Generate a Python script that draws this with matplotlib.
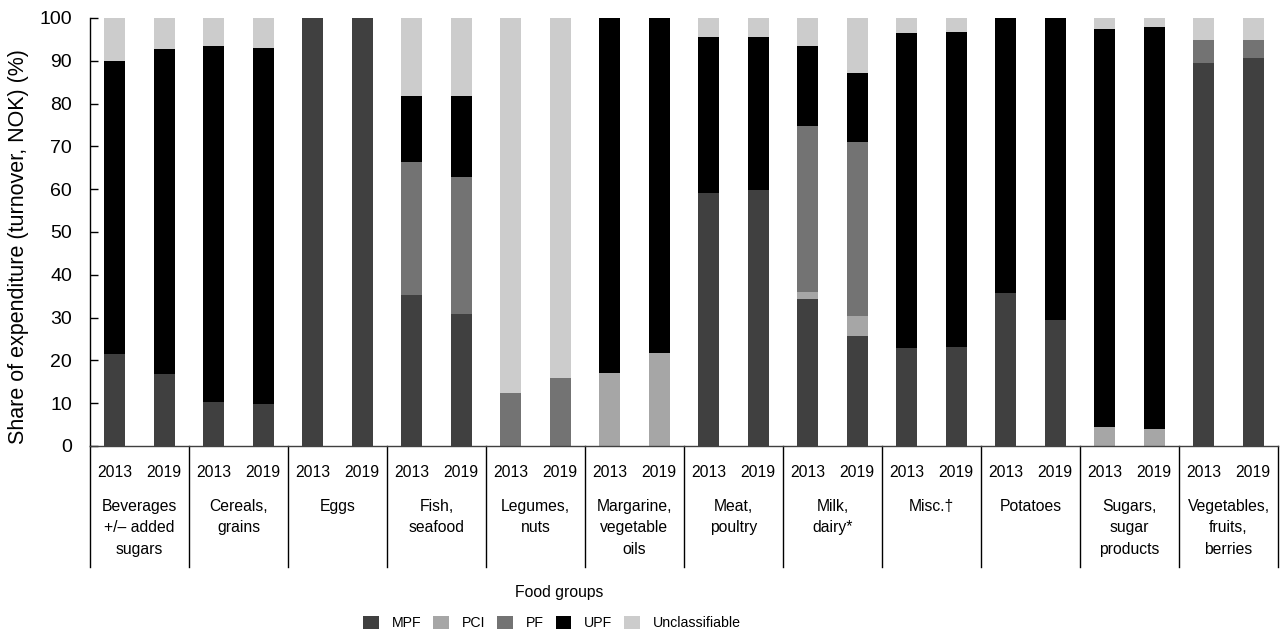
import numpy as np
import matplotlib.pyplot as plt
from matplotlib.patches import Patch
import matplotlib.transforms as mtransforms

plt.rcParams['font.family'] = ['Liberation Sans', 'DejaVu Sans']

# food groups and the two survey years
groups = ['Beverages\n+/\u2013 added\nsugars', 'Cereals,\ngrains', 'Eggs', 'Fish,\nseafood',
          'Legumes,\nnuts', 'Margarine,\nvegetable\noils', 'Meat,\npoultry', 'Milk,\ndairy*',
          'Misc.\u2020', 'Potatoes', 'Sugars,\nsugar\nproducts', 'Vegetables,\nfruits,\nberries']
years = ['2013', '2019']

# share (%) per processing class, order: g0-2013, g0-2019, g1-2013, ...
mpf = [21.4, 16.8, 10.2, 9.7, 100, 100, 35.2, 30.8, 0, 0, 0, 0,
       59.1, 59.8, 34.3, 25.6, 22.8, 23.1, 35.7, 29.4, 0, 0, 89.5, 90.6]
pci = [0, 0, 0, 0, 0, 0, 0, 0, 0, 0, 17.0, 21.7,
       0, 0, 1.6, 4.7, 0, 0, 0, 0, 4.4, 3.9, 0, 0]
pf = [0, 0, 0, 0, 0, 0, 31.1, 32.0, 12.3, 15.8, 0, 0,
      0, 0, 38.8, 40.7, 0, 0, 0, 0, 0, 0, 5.4, 4.3]
upf = [68.5, 76.0, 83.3, 83.3, 0, 0, 15.5, 19.0, 0, 0, 83.0, 78.3,
       36.5, 35.8, 18.8, 16.1, 73.7, 73.6, 64.3, 70.6, 93.0, 94.0, 0, 0]
uncl = [10.1, 7.2, 6.5, 7.0, 0, 0, 18.2, 18.2, 87.7, 84.2, 0, 0,
        4.4, 4.4, 6.5, 12.9, 3.5, 3.3, 0, 0, 2.6, 2.1, 5.1, 5.1]

series = [('MPF', mpf, '#404040'), ('PCI', pci, '#a6a6a6'), ('PF', pf, '#737373'),
          ('UPF', upf, '#000000'), ('Unclassifiable', uncl, '#cccccc')]

fig = plt.figure(figsize=(12.86, 6.37), dpi=100)
ax = fig.add_axes([90/1286, 191/637, 1188/1286, 428/637])

n = len(groups)
x = np.array([[g + 0.25, g + 0.75] for g in range(n)]).ravel()
bottom = np.zeros(len(x))
for name, vals, col in series:
    vals = np.array(vals, dtype=float)
    ax.bar(x, vals, width=0.212, bottom=bottom, color=col, linewidth=0)
    bottom += vals

ax.set_xlim(0, n)
ax.set_ylim(0, 100)
ax.set_yticks(np.arange(0, 101, 10))
ax.tick_params(axis='y', direction='in', length=6, width=1, pad=13, labelsize=14)
ax.set_xticks([])
for s in ['top', 'right']:
    ax.spines[s].set_visible(False)
ax.spines['left'].set_linewidth(1)
ax.spines['bottom'].set_linewidth(1)
ax.spines['bottom'].set_color('#404040')

trans = mtransforms.blended_transform_factory(ax.transData, ax.transAxes)
for g in range(n + 1):
    ax.plot([g, g], [0, -0.283], transform=trans, color='black', lw=1, clip_on=False)
for i, xi in enumerate(x):
    ax.text(xi, -0.061, years[i % 2], transform=trans, ha='center', va='center',
            fontsize=11.3)
for g, name in enumerate(groups):
    ax.text(g + 0.5, -0.123, name, transform=trans, ha='center', va='top',
            fontsize=11.3, linespacing=1.55)

fig.text(19/1286, 390/637, 'Share of expenditure (turnover, NOK) (%)', rotation=90,
         ha='center', va='center', fontsize=15.5)
fig.text(559/1286, 44/637, 'Food groups', ha='center', va='center', fontsize=11.3)

handles = [Patch(facecolor=c, edgecolor='none', label=nm) for nm, v, c in series]
fig.legend(handles=handles, loc='center', bbox_to_anchor=(552/1286, 14/637), ncol=5,
           frameon=False, fontsize=10.2, handlelength=1.1, handleheight=1.1,
           handletextpad=0.9, columnspacing=0.85, borderpad=0, borderaxespad=0)

fig.savefig('out.png', dpi=100)
